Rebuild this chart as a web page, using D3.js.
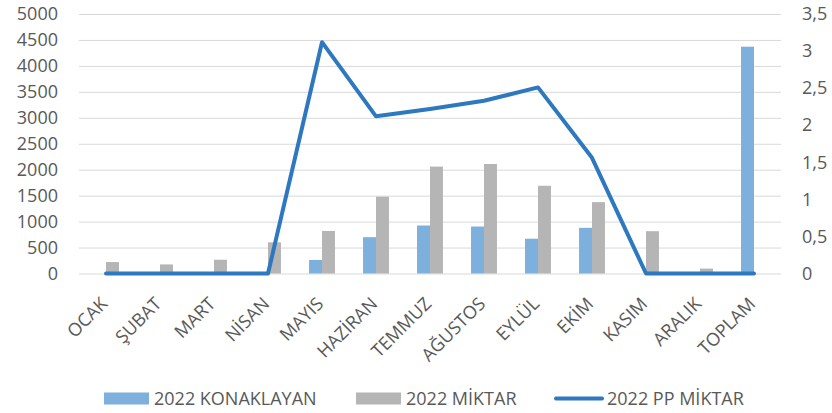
<!DOCTYPE html>
<html>
<head>
<meta charset="utf-8">
<script src="https://cdn.jsdelivr.net/npm/d3@7"></script>
<style>
  html, body { margin: 0; padding: 0; background: #fff; }
  svg { display: block; }
  text { font-family: "Open Sans", "Liberation Sans", sans-serif; fill: #595959; }
</style>
</head>
<body>
<svg id="chart" width="832" height="413"></svg>
<script>
const categories = ["OCAK","ŞUBAT","MART","NİSAN","MAYIS","HAZİRAN","TEMMUZ","AĞUSTOS","EYLÜL","EKİM","KASIM","ARALIK","TOPLAM"];
const konaklayan = [0, 0, 0, 0, 260, 700, 925, 905, 670, 880, 0, 0, 4370];
const miktar = [220, 175, 265, 600, 820, 1480, 2060, 2110, 1690, 1375, 815, 95, 0];
const ppMiktar = [0, 0, 0, 0, 3.12, 2.12, 2.22, 2.33, 2.51, 1.56, 0, 0, 0];
const leftTicks = [0, 500, 1000, 1500, 2000, 2500, 3000, 3500, 4000, 4500, 5000];
const rightTicks = [0, 0.5, 1, 1.5, 2, 2.5, 3, 3.5];
const seriesNames = ["2022 KONAKLAYAN", "2022 MİKTAR", "2022 PP MİKTAR"];

const colors = { blue: "#7eb0de", gray: "#b5b5b5", line: "#2e78c0", grid: "#d9d9d9" };

const svg = d3.select("#chart");
svg.append("rect").attr("width", 832).attr("height", 413).attr("fill", "#fff");

const plot = { left: 79, right: 781, top: 14, bottom: 273.5 };

const x = d3.scaleBand().domain(categories).range([plot.left, plot.right]);
const bw = x.bandwidth();
const barW = bw * 0.24;
const cx = c => x(c) + bw / 2;

const yL = d3.scaleLinear().domain([0, 5000]).range([plot.bottom, plot.top]);
const yR = d3.scaleLinear().domain([0, 3.5]).range([plot.bottom, plot.top]);

// gridlines
const grid = svg.append("g").attr("transform", `translate(${plot.left},0)`)
  .call(d3.axisLeft(yL).tickValues(leftTicks).tickSize(-(plot.right - plot.left)).tickFormat(""));
grid.select(".domain").remove();
grid.selectAll("line").attr("stroke", colors.grid).attr("stroke-width", 1);

// left axis labels
const axL = svg.append("g").attr("transform", `translate(${plot.left - 21},0)`)
  .call(d3.axisLeft(yL).tickValues(leftTicks).tickSize(0).tickPadding(0).tickFormat(d3.format("d")));
axL.select(".domain").remove();
axL.selectAll("text").attr("font-size", 18).style("fill", "#595959")
  .attr("font-family", "'Open Sans', sans-serif");

// right axis labels
const fmtR = d => String(d).replace(".", ",");
const axR = svg.append("g").attr("transform", `translate(${plot.right + 21},0)`)
  .call(d3.axisRight(yR).tickValues(rightTicks).tickSize(0).tickPadding(0).tickFormat(fmtR));
axR.select(".domain").remove();
axR.selectAll("text").attr("font-size", 18).style("fill", "#595959")
  .attr("font-family", "'Open Sans', sans-serif");

// bars
const bars = svg.append("g");
bars.selectAll("rect.k").data(categories.map((c, i) => ({ c, v: konaklayan[i] })).filter(d => d.v > 0))
  .join("rect").attr("class", "k")
  .attr("x", d => cx(d.c) - barW).attr("width", barW)
  .attr("y", d => yL(d.v)).attr("height", d => yL(0) - yL(d.v))
  .attr("fill", colors.blue);
bars.selectAll("rect.m").data(categories.map((c, i) => ({ c, v: miktar[i] })).filter(d => d.v > 0))
  .join("rect").attr("class", "m")
  .attr("x", d => cx(d.c)).attr("width", barW)
  .attr("y", d => yL(d.v)).attr("height", d => yL(0) - yL(d.v))
  .attr("fill", colors.gray);

// line
const line = d3.line().x((d, i) => cx(categories[i])).y(d => yR(d));
svg.append("path").datum(ppMiktar).attr("d", line)
  .attr("fill", "none").attr("stroke", colors.line).attr("stroke-width", 4)
  .attr("stroke-linejoin", "round").attr("stroke-linecap", "round");

// x labels
svg.append("g").selectAll("text").data(categories).join("text")
  .attr("transform", c => `translate(${cx(c) - 2},${plot.bottom + 27}) rotate(-45)`)
  .attr("text-anchor", "end").attr("dy", "0.35em")
  .attr("font-size", 18).text(c => c);

// legend
const leg = svg.append("g");
const legY = 398.5;
leg.append("rect").attr("x", 104).attr("y", legY - 6).attr("width", 45).attr("height", 12).attr("fill", colors.blue);
leg.append("text").attr("x", 154).attr("y", legY).attr("dy", "0.35em").attr("font-size", 18).text(seriesNames[0]);
leg.append("rect").attr("x", 356).attr("y", legY - 6).attr("width", 45).attr("height", 12).attr("fill", colors.gray);
leg.append("text").attr("x", 406).attr("y", legY).attr("dy", "0.35em").attr("font-size", 18).text(seriesNames[1]);
leg.append("line").attr("x1", 556).attr("x2", 602).attr("y1", legY).attr("y2", legY)
  .attr("stroke", colors.line).attr("stroke-width", 4).attr("stroke-linecap", "round");
leg.append("text").attr("x", 607).attr("y", legY).attr("dy", "0.35em").attr("font-size", 18).text(seriesNames[2]);
</script>
</body>
</html>
